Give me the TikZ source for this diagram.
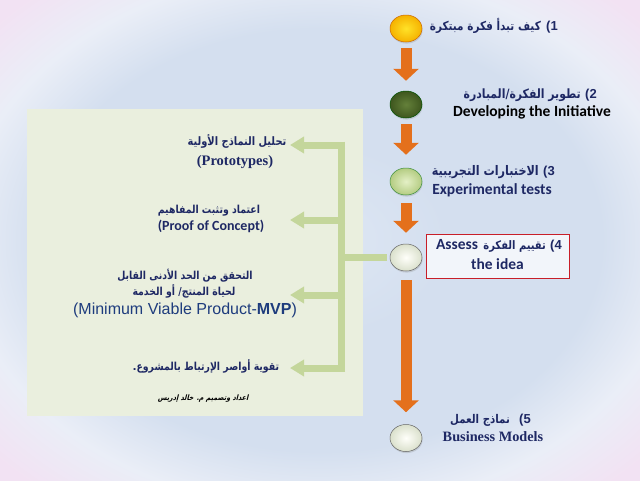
\documentclass[tikz,border=0pt]{standalone}
\usepackage{fontspec}
\setmainfont{Liberation Sans}
\newfontfamily\arabicfont[Script=Arabic,FakeStretch=0.85]{DejaVu Sans}
\newfontfamily\arabicslant[Script=Arabic,FakeSlant=0.25,FakeStretch=0.85]{DejaVu Sans}
\newfontfamily\calfont{Carlito}
\newfontfamily\serfont{Liberation Serif}
\TeXXeTstate=1
\usetikzlibrary{arrows.meta,shadows,shapes.geometric}
\newbox\latinresetbox
\newcommand{\AR}[2][11]{{\arabicfont\bfseries\fontsize{#1}{13}\selectfont\beginR #2\endR}\setbox\latinresetbox\hbox{\rmfamily x}}
\definecolor{navy}{RGB}{30,40,100}
\definecolor{mvpblue}{RGB}{30,60,125}
\definecolor{arroworange}{RGB}{228,112,28}
\definecolor{brgreen}{RGB}{196,214,155}
\definecolor{panelgreen}{RGB}{234,239,222}
\definecolor{bgmid}{RGB}{212,223,239}
\definecolor{bgcen}{RGB}{222,231,244}
\definecolor{bgout}{RGB}{234,238,247}
\definecolor{bgpink}{RGB}{242,226,243}
\pgfdeclareradialshading{bgshade}{\pgfpoint{0bp}{0bp}}{color(0bp)=(bgcen); color(10bp)=(bgmid); color(22bp)=(bgmid); color(28bp)=(bgout); color(34bp)=(bgpink); color(50bp)=(bgpink)}
\tikzset{
  ball/.style={ellipse, minimum width=32pt, minimum height=27pt, inner sep=0pt,
     draw=#1!80!black, line width=0.5pt,
     drop shadow={opacity=0.25, shadow xshift=0.6pt, shadow yshift=-1.6pt}},
  orarrow/.style={draw=arroworange, line width=11pt,
     -{Triangle[width=25pt,length=12pt]}, shorten <=6pt, shorten >=10pt},
  brline/.style={draw=brgreen, line width=7pt},
  brarrow/.style={draw=brgreen, line width=7pt, -{Triangle[width=16pt,length=14pt]}},
  lbl/.style={inner sep=0pt, anchor=mid, text=navy, font=\fontsize{13}{15}\selectfont\bfseries},
  num/.style={inner sep=0pt, anchor=mid east, text=navy, font=\fontsize{13}{15}\selectfont\bfseries},
  cal/.style={inner sep=0pt, anchor=mid, text=navy, font=\calfont\fontsize{15.5}{18}\selectfont\bfseries},
  ser/.style={inner sep=0pt, anchor=mid, text=navy, font=\serfont\fontsize{14.3}{16}\selectfont\bfseries},
}
\begin{document}
\begin{tikzpicture}[x=1pt,y=-1pt]
\useasboundingbox (0,0) rectangle (640,480);
\shade[shading=bgshade] (0,0) rectangle (640,480);
% panel
\node[fill=panelgreen, minimum width=336pt, minimum height=307pt, inner sep=0pt] (panel) at (195,262.5) {};
% circles
\node[ball=orange, shading=radial, inner color={rgb,255:red,255;green,226;blue,40}, outer color={rgb,255:red,245;green,178;blue,0}] (c1) at (406,28.5) {};
\node[ball=green!40!black, shading=radial, inner color={rgb,255:red,100;green,128;blue,58}, outer color={rgb,255:red,62;green,86;blue,30}] (c2) at (406,104.5) {};
\node[ball=green!40!gray, shading=radial, inner color={rgb,255:red,228;green,240;blue,198}, outer color={rgb,255:red,180;green,204;blue,130}] (c3) at (406,181.5) {};
\node[ball=gray, shading=radial, inner color={rgb,255:red,255;green,255;blue,250}, outer color={rgb,255:red,218;green,224;blue,204}] (c4) at (406,257.5) {};
\node[ball=gray, shading=radial, inner color={rgb,255:red,255;green,255;blue,250}, outer color={rgb,255:red,218;green,224;blue,204}] (c5) at (406,438) {};
% orange arrows
\draw[orarrow] (c1.south) -- (c2.north);
\draw[orarrow, shorten >=13pt] (c2.south) -- (c3.north);
\draw[orarrow, shorten <=8pt, shorten >=11pt] (c3.south) -- (c4.north);
\draw[orarrow, shorten <=9pt, shorten >=12pt] (c4.south) -- (c5.north);
% green bracket
\coordinate (btop) at (341.5,141.5);
\coordinate (bbot) at (341.5,371.5);
\coordinate (bmid) at (341.5,257.5);
\coordinate (b1) at (345,145); \coordinate (t1) at (290,145);
\coordinate (b2) at (345,220); \coordinate (t2) at (290,220);
\coordinate (b3) at (345,295); \coordinate (t3) at (290,295);
\coordinate (b4) at (345,368); \coordinate (t4) at (290,368);
\draw[brline] (btop) -- (bbot);
\draw[brline, shorten <=3pt] (c4.west) -- (bmid);
\draw[brarrow] (b1) -- (t1);
\draw[brarrow] (b2) -- (t2);
\draw[brarrow] (b3) -- (t3);
\draw[brarrow] (b4) -- (t4);
% box of step 4
\node[draw={rgb,255:red,200;green,30;blue,40}, line width=1pt, fill={rgb,255:red,242;green,245;blue,250}, minimum width=143pt, minimum height=44pt, inner sep=0pt] (box4) at (497.5,256) {};
% step numbers (set before any Arabic text)
\node[num] (n1) at (558,28) {(1};
\node[num] (n2) at (597,96) {(2};
\node[num] (n3) at (555,173) {(3};
\node[num] (n4) at (562,247) {(4};
\node[num] (n5) at (531,421) {(5};
% right labels
\node[lbl, anchor=mid east] (l1) at ([xshift=-5pt]n1.mid west) {\AR[12.3]{كيف تبدأ فكرة مبتكرة}};
\node[lbl, anchor=mid east] (l2a) at ([xshift=-4pt]n2.mid west) {\AR[12.8]{تطوير الفكرة\kern0pt/\kern0pt{}المبادرة}};
\node[cal, text=black] (l2b) at (532,114) {Developing the Initiative};
\node[lbl, anchor=mid east] (l3a) at ([xshift=-4pt]n3.mid west) {\AR[13.2]{الاختبارات التجريبية}};
\node[cal] (l3b) at (492,192) {Experimental tests};
\node[lbl, anchor=mid east] (l4a) at ([xshift=-4pt]n4.mid west) {\AR[11.7]{تقييم الفكرة}};
\node[cal, anchor=mid east] (l4s) at ([xshift=-5pt]l4a.mid west) {Assess};
\node[cal] (l4b) at (497.5,267) {the idea};
\node[lbl, anchor=mid east] (l5a) at ([xshift=-9pt]n5.mid west) {\AR[12]{نماذج العمل}};
\node[ser] (l5b) at (493,439) {Business Models};
% panel labels
\node[lbl] (p1a) at (237,143) {\AR[11.6]{تحليل النماذج الأولية}};
\node[ser, font=\serfont\fontsize{14.5}{16}\selectfont\bfseries] (p1b) at (235,163) {(Prototypes)};
\node[lbl] (p2a) at (209,211) {\AR{اعتماد وتثبت المفاهيم}};
\node[cal, font=\calfont\fontsize{14}{16}\selectfont\bfseries] (p2b) at (211,228) {(Proof of Concept)};
\node[lbl] (p3a) at (185,277) {\AR{التحقق من الحد الأدنى القابل}};
\node[lbl] (p3b) at (184,293) {\AR{لحياة المنتج\kern0pt/ أو الخدمة}};
\node[inner sep=0pt, anchor=mid, text=mvpblue, font=\fontsize{16}{18}\selectfont] (p3c) at (185,312) {(Minimum Viable Product-\textbf{MVP})};
\node[lbl] (p4) at (206,368) {.\AR{تقوية أواصر الإرتباط بالمشروع}};
\node[inner sep=0pt, anchor=mid, text=black, font=\arabicslant\fontsize{7.5}{9}\selectfont\bfseries] (foot) at (203,398) {\beginR اعداد وتصميم م\kern0pt. خالد إدريس\endR};
\end{tikzpicture}
\end{document}
